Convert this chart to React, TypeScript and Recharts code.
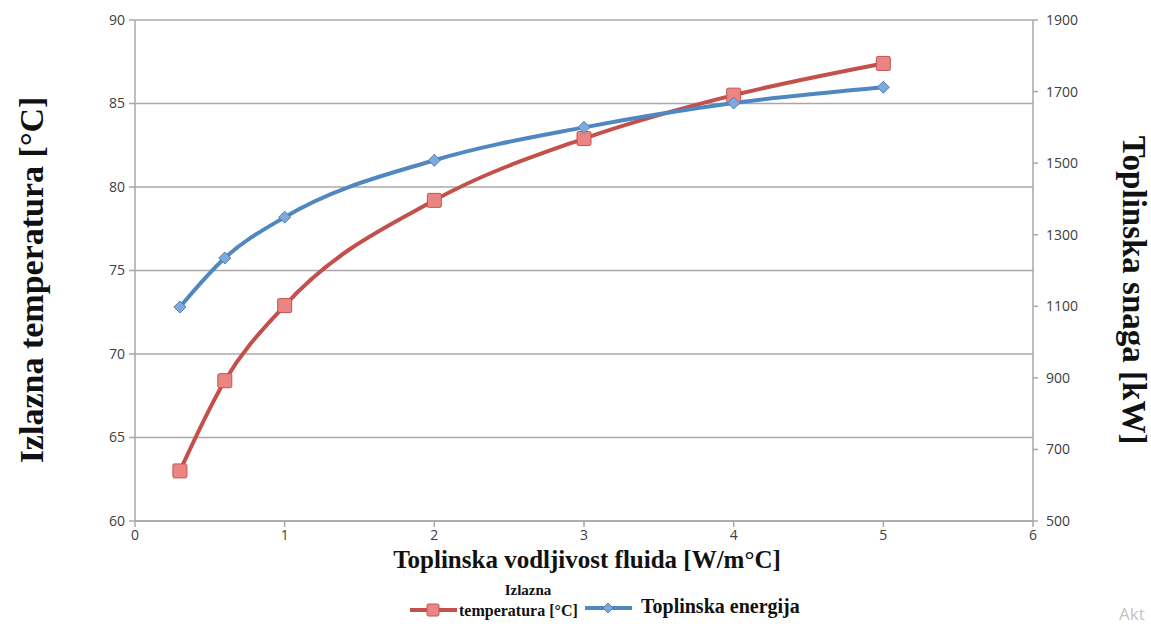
import { LineChart, Line, XAxis, YAxis, CartesianGrid } from 'recharts';

const conductivity = [0.3, 0.6, 1, 2, 3, 4, 5];
const outletTemp = [63.0, 68.4, 72.9, 79.2, 82.9, 85.5, 87.4];
const heatPower = [1098, 1235, 1349, 1508, 1600, 1668, 1712];

const xTicks = [0, 1, 2, 3, 4, 5, 6];
const tempTicks = [60, 65, 70, 75, 80, 85, 90];
const powerTicks = [500, 700, 900, 1100, 1300, 1500, 1700, 1900];

const RED = '#c4504c';
const BLUE = '#5187c0';

const data = conductivity.map((x, i) => ({
  x,
  temp: outletTemp[i],
  power: heatPower[i],
}));

const tickStyle = { fontFamily: 'Open Sans, sans-serif', fontSize: 14, fill: '#404040' };
const serifBold = { fontFamily: 'Liberation Serif, serif', fontWeight: 700, color: '#111' };

function SquareDot(props: any) {
  const { cx, cy, index } = props;
  if (cx == null || cy == null) return null;
  return (
    <rect
      key={'sq' + index}
      x={cx - 7}
      y={cy - 7}
      width={14}
      height={14}
      rx={1.5}
      fill="#ea8583"
      stroke="#c25552"
      strokeWidth={1}
    />
  );
}

function DiamondDot(props: any) {
  const { cx, cy, index } = props;
  if (cx == null || cy == null) return null;
  const r = 6;
  return (
    <path
      key={'dm' + index}
      d={`M${cx},${cy - r} L${cx + r},${cy} L${cx},${cy + r} L${cx - r},${cy} Z`}
      fill="#7eaadb"
      stroke="#4f7fb8"
      strokeWidth={1}
    />
  );
}

export default function App() {
  return (
    <div style={{ position: 'absolute', left: 0, top: 0, width: 1151, height: 626, background: '#fff' }}>
      <LineChart
        width={1151}
        height={626}
        data={data}
        margin={{ top: 20, right: 0, bottom: 75, left: 0 }}
      >
        <CartesianGrid yAxisId="left" vertical={false} stroke="#a8a8a8" strokeWidth={1.5} />
        <XAxis
          dataKey="x"
          type="number"
          domain={[0, 6]}
          ticks={xTicks}
          height={30}
          stroke="#a8a8a8"
          strokeWidth={1.5}
          tickSize={6}
          tickMargin={3}
          tick={tickStyle}
        />
        <YAxis
          yAxisId="left"
          domain={[60, 90]}
          ticks={tempTicks}
          width={135}
          stroke="#a8a8a8"
          strokeWidth={1.5}
          tickSize={6}
          tickMargin={4}
          tick={tickStyle}
        />
        <YAxis
          yAxisId="right"
          orientation="right"
          domain={[500, 1900]}
          ticks={powerTicks}
          width={118}
          stroke="#a8a8a8"
          strokeWidth={1.5}
          tickSize={5}
          tickMargin={8}
          tick={tickStyle}
        />
        <Line
          yAxisId="left"
          type="monotone"
          dataKey="temp"
          stroke={RED}
          strokeWidth={4}
          dot={SquareDot}
          isAnimationActive={false}
        />
        <Line
          yAxisId="right"
          type="monotone"
          dataKey="power"
          stroke={BLUE}
          strokeWidth={4}
          dot={DiamondDot}
          isAnimationActive={false}
        />
      </LineChart>

      {/* axis titles */}
      <div
        style={{
          ...serifBold,
          position: 'absolute',
          left: 32,
          top: 280,
          fontSize: 34,
          whiteSpace: 'nowrap',
          transform: 'translate(-50%, -50%) rotate(-90deg)',
        }}
      >
        Izlazna temperatura [°C]
      </div>
      <div
        style={{
          ...serifBold,
          position: 'absolute',
          left: 1133,
          top: 290,
          fontSize: 33,
          whiteSpace: 'nowrap',
          transform: 'translate(-50%, -50%) rotate(90deg)',
        }}
      >
        Toplinska snaga [kW]
      </div>
      <div
        style={{
          ...serifBold,
          position: 'absolute',
          left: 587,
          top: 560,
          fontSize: 25,
          whiteSpace: 'nowrap',
          transform: 'translate(-50%, -50%)',
        }}
      >
        Toplinska vodljivost fluida [W/m°C]
      </div>

      {/* legend */}
      <svg style={{ position: 'absolute', left: 405, top: 600 }} width={60} height={20}>
        <line x1={5} y1={10} x2={52} y2={10} stroke={RED} strokeWidth={4} />
        <rect x={22} y={4} width={12} height={12} rx={1.5} fill="#ea8583" stroke="#c25552" />
      </svg>
      <div style={{ ...serifBold, position: 'absolute', left: 528, top: 590, fontSize: 15, transform: 'translate(-50%, -50%)' }}>
        Izlazna
      </div>
      <div style={{ ...serifBold, position: 'absolute', left: 459, top: 602, fontSize: 16, whiteSpace: 'nowrap' }}>
        temperatura [°C]
      </div>
      <svg style={{ position: 'absolute', left: 580, top: 598 }} width={60} height={20}>
        <line x1={5} y1={10} x2={52} y2={10} stroke={BLUE} strokeWidth={4} />
        <path d="M28,5 L33,10 L28,15 L23,10 Z" fill="#7eaadb" stroke="#4f7fb8" />
      </svg>
      <div style={{ ...serifBold, position: 'absolute', left: 641, top: 595, fontSize: 20, whiteSpace: 'nowrap' }}>
        Toplinska energija
      </div>

      <div
        style={{
          position: 'absolute',
          left: 1119,
          top: 602,
          fontFamily: 'Open Sans, sans-serif',
          fontSize: 17,
          color: '#c4c4c4',
          whiteSpace: 'nowrap',
        }}
      >
        Akt
      </div>
    </div>
  );
}
